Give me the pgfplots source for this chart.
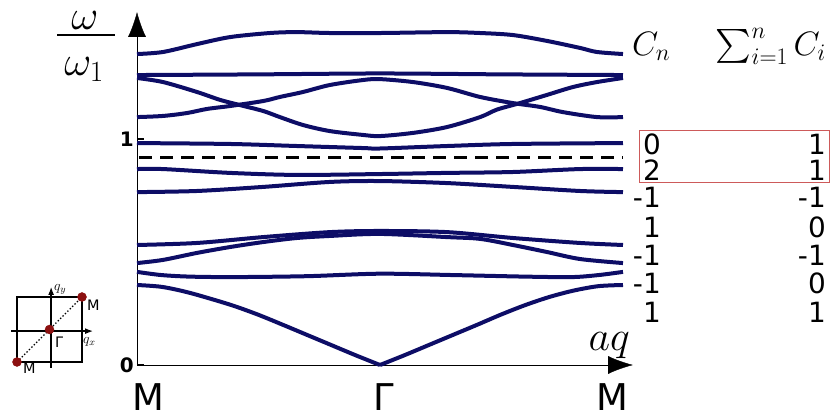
\RequirePackage{fix-cm}
\documentclass[border=0pt]{standalone}
\DeclareFontShape{OMX}{cmex}{m}{n}{<->cmex10}{}
\usepackage[no-math]{fontspec}
\setmainfont{DejaVu Sans}
\usepackage{pgfplots}
\pgfplotsset{compat=1.18}
\usetikzlibrary{arrows.meta}
\definecolor{band}{RGB}{13,13,102}
\definecolor{dotred}{RGB}{140,16,16}
\definecolor{boxred}{RGB}{205,90,90}
\newcommand{\fs}[1]{\fontsize{#1}{#1}\selectfont}
\pgfplotsset{bandline/.style={band, line width=4bp, line join=round, smooth, no marks}}
\begin{document}
\begin{tikzpicture}
\path[use as bounding box] (0bp,0bp) rectangle (831bp,419bp);
% phonon band structure along M - Gamma - M
\begin{axis}[
  at={(137bp,54bp)}, anchor=south west,
  width=496bp, height=353bp, scale only axis,
  xmin=-1, xmax=1.0412, ymin=0, ymax=1.562,
  axis lines=left,
  axis line style={line width=2.5bp, black},
  every outer x axis line/.style={-{Latex[length=25bp,width=18bp]}},
  every outer y axis line/.style={-{Latex[length=25bp,width=18bp]}},
  xtick=\empty, ytick={0,1}, yticklabels={0,1},
  yticklabel style={font=\fs{20}\bfseries, inner sep=0pt, xshift=-3bp},
  tick align=inside, major tick length=7bp,
  every tick/.style={line width=2bp, black},
  clip=false,
]
\addplot[bandline] coordinates {(-1,1.376) (-0.893,1.385) (-0.753,1.420) (-0.617,1.451) (-0.453,1.469) (-0.342,1.473) (-0.206,1.469) (0,1.469) (0.276,1.473) (0.412,1.469) (0.547,1.460) (0.687,1.434) (0.823,1.403) (0.893,1.385) (1,1.376)};
\addplot[bandline] coordinates {(-1,1.283) (-0.5,1.286) (0,1.290) (0.5,1.286) (1,1.283)};
\addplot[bandline] coordinates {(-1,1.270) (-0.893,1.252) (-0.753,1.208) (-0.658,1.173) (-0.576,1.150) (-0.481,1.124) (-0.412,1.097) (-0.317,1.062) (-0.206,1.035) (-0.070,1.018) (0,1.013) (0.136,1.027) (0.276,1.053) (0.412,1.097) (0.481,1.130) (0.576,1.159) (0.687,1.195) (0.794,1.230) (0.893,1.252) (1,1.270)};
\addplot[bandline] coordinates {(-1,1.097) (-0.893,1.102) (-0.794,1.115) (-0.712,1.133) (-0.617,1.146) (-0.481,1.168) (-0.412,1.186) (-0.317,1.208) (-0.206,1.239) (-0.070,1.261) (0,1.265) (0.136,1.252) (0.276,1.226) (0.412,1.186) (0.547,1.159) (0.658,1.142) (0.753,1.119) (0.893,1.097) (1,1.097)};
\addplot[bandline] coordinates {(-1,0.982) (-0.617,0.978) (-0.342,0.969) (-0.070,0.960) (0,0.958) (0.276,0.969) (0.547,0.978) (1,0.982)};
\addplot[black, line width=3bp, dash pattern=on 13bp off 8bp, no marks] coordinates {(-0.99,0.916) (1,0.916)};
\addplot[bandline] coordinates {(-1,0.867) (-0.893,0.867) (-0.617,0.850) (-0.342,0.841) (0,0.845) (0.276,0.850) (0.547,0.854) (0.823,0.867) (1,0.867)};
\addplot[bandline] coordinates {(-1,0.765) (-0.753,0.770) (-0.481,0.788) (-0.206,0.810) (0,0.814) (0.276,0.805) (0.547,0.788) (0.823,0.770) (1,0.765)};
\addplot[bandline] coordinates {(-1,0.531) (-0.753,0.540) (-0.481,0.566) (-0.206,0.588) (0,0.593) (0.276,0.588) (0.547,0.562) (0.823,0.540) (1,0.531)};
\addplot[bandline] coordinates {(-1,0.451) (-0.893,0.465) (-0.753,0.496) (-0.617,0.522) (-0.481,0.544) (-0.342,0.562) (-0.206,0.571) (0,0.580) (0.276,0.566) (0.412,0.558) (0.547,0.531) (0.687,0.500) (0.823,0.469) (1,0.451)};
\addplot[bandline] coordinates {(-1,0.412) (-0.9,0.398) (-0.78,0.391) (-0.6,0.389) (-0.3,0.393) (0,0.404) (0.3,0.398) (0.6,0.391) (0.79,0.389) (0.9,0.398) (1,0.412)};
% acoustic branch, vanishing at Gamma
\addplot[bandline] coordinates {(-1,0.354) (-0.9,0.346) (-0.8,0.324) (-0.7,0.294) (-0.6,0.261) (-0.5,0.222) (-0.4,0.178) (-0.3,0.133) (-0.2,0.088) (-0.1,0.043) (0,0)};
\addplot[bandline] coordinates {(0,0) (0.1,0.043) (0.2,0.088) (0.3,0.133) (0.4,0.178) (0.5,0.224) (0.6,0.266) (0.7,0.302) (0.8,0.330) (0.9,0.349) (1,0.354)};
\end{axis}

% Brillouin zone sketch
\begin{axis}[
  at={(49.5bp,89.5bp)}, anchor=center,
  width=97.5bp, height=97.5bp, scale only axis,
  xmin=-1.5, xmax=1.5, ymin=-1.5, ymax=1.5,
  axis lines=none, clip=false,
]
\addplot[black, line width=1.8bp, no marks] coordinates {(-1,-1) (1,-1) (1,1) (-1,1) (-1,-1)};
\addplot[black, line width=1.4bp, no marks, -{Latex[length=8bp,width=6bp]}] coordinates {(0.05,-1.18) (0.05,1.31)};
\addplot[black, line width=1.4bp, no marks, -{Latex[length=8bp,width=6bp]}] coordinates {(-1.18,-0.05) (1.34,-0.05)};
\addplot[black, line width=1.4bp, no marks, dotted] coordinates {(-1,-1) (1,1)};
\addplot[only marks, mark=*, mark size=4.5bp, dotred, mark options={draw=dotred, fill=dotred}] coordinates {(-1,-1) (0,0) (1,1)};
\end{axis}

\begin{scope}[x=1bp, y=1bp]
\node[font=\fs{14.5}, anchor=base west, inner sep=0pt] at (87,109) {M};
\node[font=\fs{14.5}, anchor=base west, inner sep=0pt] at (55,72) {Γ};
\node[font=\fs{14.5}, anchor=base west, inner sep=0pt] at (23,46) {M};
\node[font=\fs{14}, anchor=base west, inner sep=0pt] at (54,129) {$q_y$};
\node[font=\fs{14}, anchor=base west, inner sep=0pt] at (83,76) {$q_x$};

% frequency label omega / omega_1
\node[font=\fs{42}, anchor=base, inner sep=0pt] at (85,389) {$\omega$};
\draw[line width=2.6bp] (57,384) -- (115,384);
\node[font=\fs{42}, anchor=base, inner sep=0pt] at (84,344) {$\omega_1$};

\node[font=\fs{42}, anchor=base east, inner sep=0pt] at (630,69) {$aq$};
\node[font=\fs{37}, anchor=base, inner sep=0pt] at (148,9) {M};
\node[font=\fs{37}, anchor=base, inner sep=0pt] at (384,9) {Γ};
\node[font=\fs{37}, anchor=base, inner sep=0pt] at (612,9) {M};

% Chern numbers
\node[font=\fs{34}, anchor=base west, inner sep=0pt] at (632,364) {$C_n$};
\node[font=\fs{34}, anchor=base east, inner sep=0pt] at (826,364) {$\sum_{i=1}^{n} C_i$};
\draw[boxred, line width=0.8bp] (639,237) rectangle (829,289);
\foreach \y/\a/\b in {265/0/1, 239/2/1, 212/-1/-1, 182/1/0, 154/-1/-1, 126/-1/0, 97/1/1}{
  \node[font=\fs{28}, anchor=base east, inner sep=0pt] at (661,\y) {\a};
  \node[font=\fs{28}, anchor=base east, inner sep=0pt] at (826,\y) {\b};
}
\end{scope}
\end{tikzpicture}
\end{document}
